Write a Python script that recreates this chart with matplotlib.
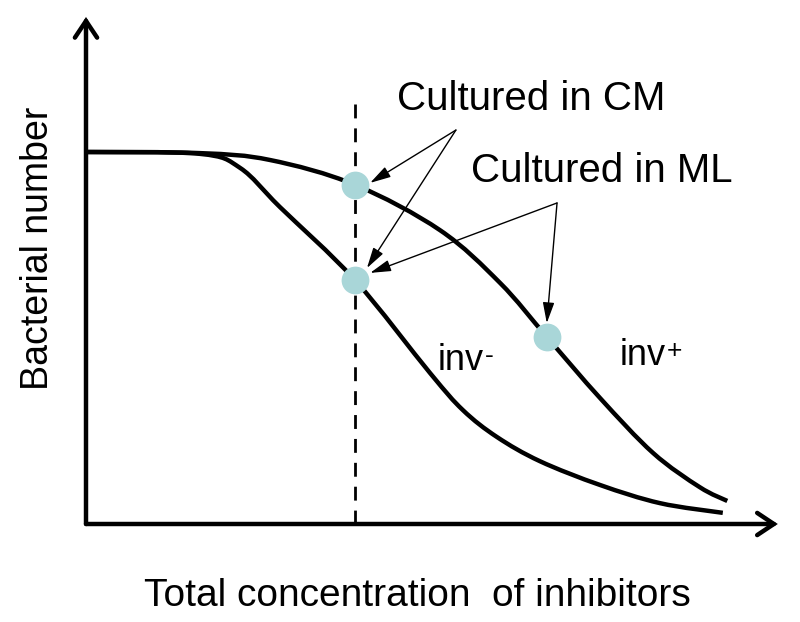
import matplotlib
matplotlib.use("Agg")
import matplotlib.pyplot as plt
from matplotlib.path import Path
from matplotlib.patches import PathPatch

plt.rcParams['font.family'] = ['Liberation Sans', 'DejaVu Sans']

# ---- data (schematic) ----
inv_plus_x = [0, 17.8, 28.75, 42.0, 55.3, 64.7, 72.0, 80.3, 88.6, 95.9, 100.2]
inv_plus_y = [100, 99.7, 97.85, 91.2, 79.0, 64.8, 50.3, 33.9, 19.1, 9.9, 6.2]

inv_minus_x = [0, 17.8, 24.1, 30.3, 42.0, 53.75, 58.9, 64.2, 70.9, 80.3, 89.7, 99.5]
inv_minus_y = [100, 99.5, 95.7, 85.2, 65.6, 40.6, 30.6, 23.4, 16.9, 10.5, 5.6, 3.0]

dots_x = [42.0, 42.0, 72.0]
dots_y = [91.2, 65.6, 50.3]

dash_x = 42.0
dash_top = 114.8

labels = ["Cultured in CM", "Cultured in ML"]
label_pos = [(48.6, 111.3), (60.2, 91.9)]
arrow_src = [(57.8, 105.9), (73.6, 86.3)]
arrow_tips = [[(44.4, 91.7), (43.9, 68.8)], [(44.4, 67.5), (72.0, 54.0)]]

curve_labels = ["inv", "inv"]
curve_sups = ["-", "+"]
curve_label_pos = [(55.0, 41.4), (83.4, 42.7)]

xlabel = "Total concentration  of inhibitors"
ylabel = "Bacterial number"


def smooth_path(xs, ys):
    """Smooth (Catmull-Rom as cubic Bezier) path through the given points."""
    pts = list(zip(xs, ys))
    n = len(pts)
    verts = [pts[0]]
    codes = [Path.MOVETO]
    for i in range(n - 1):
        p0 = pts[i - 1] if i > 0 else pts[i]
        p1 = pts[i]
        p2 = pts[i + 1]
        p3 = pts[i + 2] if i + 2 < n else pts[i + 1]
        c1 = (p1[0] + (p2[0] - p0[0]) / 6.0, p1[1] + (p2[1] - p0[1]) / 6.0)
        c2 = (p2[0] - (p3[0] - p1[0]) / 6.0, p2[1] - (p3[1] - p1[1]) / 6.0)
        verts += [c1, c2, p2]
        codes += [Path.CURVE4] * 3
    return Path(verts, codes)


# ---- figure ----
fig = plt.figure(figsize=(8.0, 6.22), dpi=100)
ax = fig.add_axes([0, 0, 1, 1])
ax.set_xlim(-86 / 6.4, (800 - 86) / 6.4)
ax.set_ylim((524 - 622) / 3.72, 524 / 3.72)
ax.axis('off')

# axes with arrows
for tip in [(0, 136.3), (108.1, 0)]:
    ax.annotate('', xy=tip, xytext=(0, 0),
                arrowprops=dict(arrowstyle='->,head_length=0.6,head_width=0.4', lw=3.2,
                                color='black', shrinkA=0, shrinkB=0, mutation_scale=20,
                                capstyle='round', joinstyle='miter'))

# dashed line
ax.plot([dash_x, dash_x], [0, dash_top], color='black', lw=2.0,
        linestyle=(0, (5, 3.6)), dash_capstyle='butt')

# curves
for xs, ys in [(inv_plus_x, inv_plus_y), (inv_minus_x, inv_minus_y)]:
    ax.add_patch(PathPatch(smooth_path(xs, ys), facecolor='none', edgecolor='black',
                           lw=3.2, capstyle='butt', joinstyle='round', zorder=3))

# dots
ax.plot(dots_x, dots_y, 'o', color='#a9d6d8', markersize=20, markeredgewidth=0,
        zorder=5)

# labels and arrows
for lab, (lx, ly) in zip(labels, label_pos):
    ax.text(lx, ly, lab, fontsize=29, ha='left', va='baseline', color='black')
for (sx, sy), tips in zip(arrow_src, arrow_tips):
    for (tx, ty) in tips:
        ax.annotate('', xy=(tx, ty), xytext=(sx, sy),
                    arrowprops=dict(arrowstyle='-|>,head_length=0.9,head_width=0.25',
                                    lw=1.0, color='black', shrinkA=0, shrinkB=0,
                                    mutation_scale=14),
                    zorder=6)

for lab, sup, (lx, ly) in zip(curve_labels, curve_sups, curve_label_pos):
    t = ax.text(lx, ly, lab, fontsize=26, ha='left', va='baseline', color='black')
    ax.annotate(sup, xy=(1.0, 0.0), xycoords=t, xytext=(0.5, 11),
                textcoords='offset points', fontsize=19, ha='left', va='baseline')

ax.text(51.7, -22.0, xlabel, fontsize=28, ha='center', va='baseline')
ax.text(-5.94, 74.2, ylabel, fontsize=27, ha='center', va='baseline',
        rotation=90, rotation_mode='anchor')

fig.savefig('out.png', dpi=100)
